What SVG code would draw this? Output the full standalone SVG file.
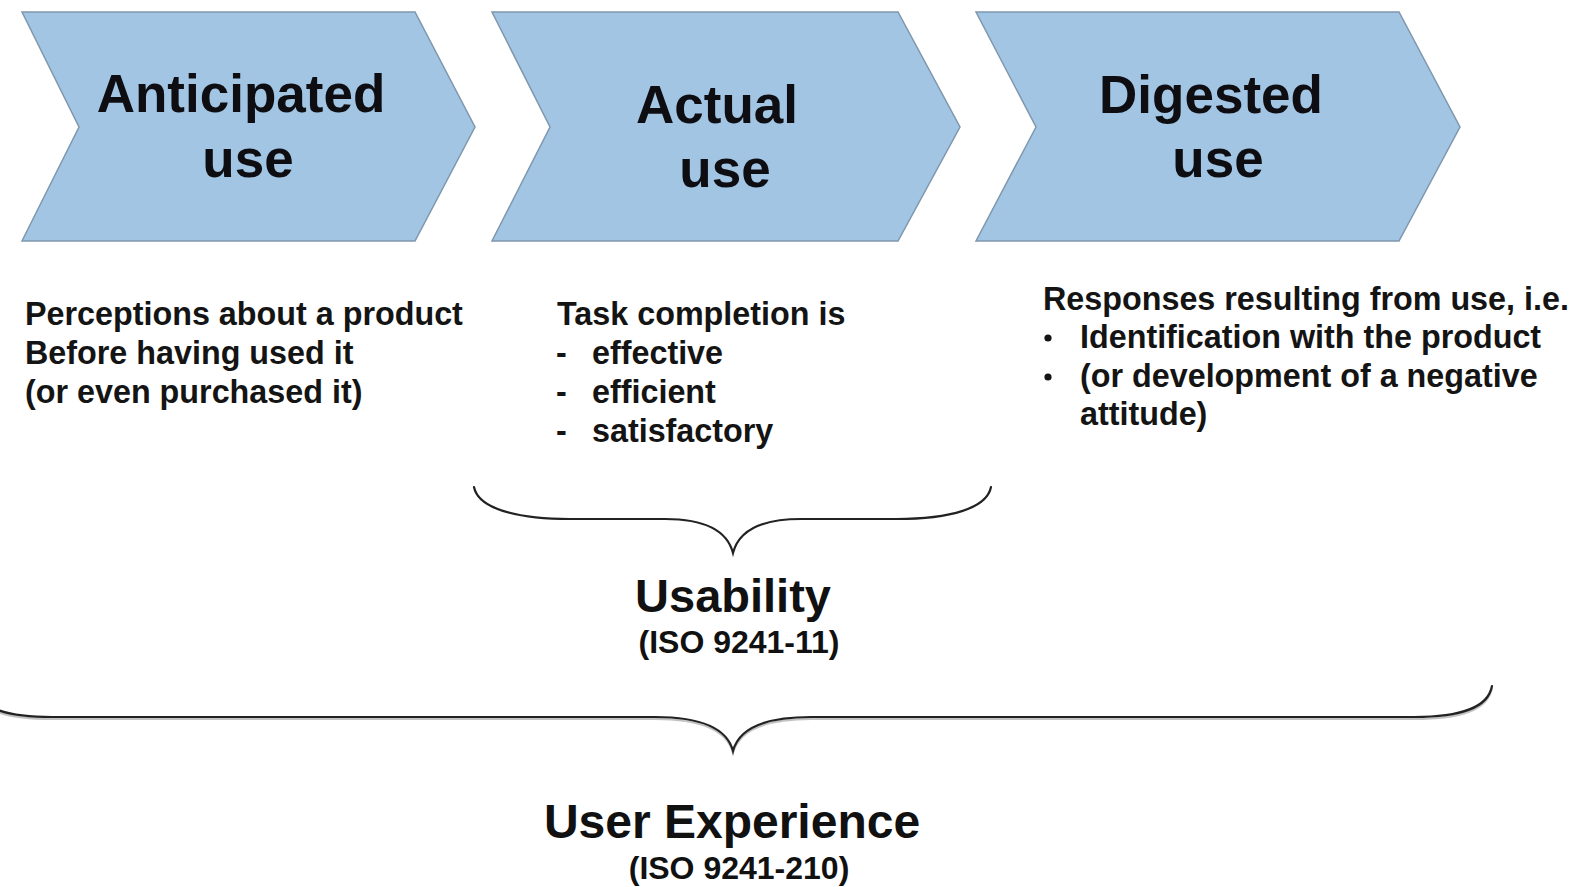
<svg xmlns="http://www.w3.org/2000/svg" width="1575" height="887" viewBox="0 0 1575 887">
  <style>
    .chev { fill: #a1c5e3; stroke: #7f97ad; stroke-width: 1.5; }
    .title { font-family: "Liberation Sans", Arial, sans-serif; font-weight: bold; font-size: 53px; fill: #0d0d12; text-anchor: middle; }
    .body { font-family: "Liberation Sans", Arial, sans-serif; font-weight: bold; font-size: 32.3px; fill: #141414; }
    .label { font-family: "Liberation Sans", Arial, sans-serif; font-weight: bold; fill: #111; text-anchor: middle; }
    .brace { fill: none; stroke: #222; stroke-width: 2.2; stroke-linecap: round; }
    .brace-shadow { fill: none; stroke: #9a9a9a; stroke-width: 2; opacity: 0.6; }
    .dot { fill: #141414; }
  </style>
  <rect width="1575" height="887" fill="#ffffff"/>

  <!-- Phase 1 -->
  <g id="anticipated-use">
    <polygon class="chev" points="22,12 415,12 475,127 415,241 22,241 79,127"/>
    <text class="title" x="241" y="112">Anticipated</text>
    <text class="title" x="248" y="177">use</text>
  </g>

  <!-- Phase 2 -->
  <g id="actual-use">
    <polygon class="chev" points="492,12 898,12 960,127 898,241 492,241 550,127"/>
    <text class="title" x="717" y="123">Actual</text>
    <text class="title" x="725" y="187">use</text>
  </g>

  <!-- Phase 3 -->
  <g id="digested-use">
    <polygon class="chev" points="976,12 1399,12 1460,127 1399,241 976,241 1036,127"/>
    <text class="title" x="1211" y="113">Digested</text>
    <text class="title" x="1218" y="177">use</text>
  </g>

  <!-- Descriptions under each phase -->
  <g id="anticipated-notes">
    <text class="body" x="25" y="325">Perceptions about a product</text>
    <text class="body" x="25" y="364">Before having used it</text>
    <text class="body" x="25" y="403">(or even purchased it)</text>
  </g>

  <g id="actual-notes">
    <text class="body" x="557" y="325">Task completion is</text>
    <text class="body" x="556" y="364">-</text>
    <text class="body" x="592" y="364">effective</text>
    <text class="body" x="556" y="403">-</text>
    <text class="body" x="592" y="403">efficient</text>
    <text class="body" x="556" y="442">-</text>
    <text class="body" x="592" y="442">satisfactory</text>
  </g>

  <g id="digested-notes">
    <text class="body" x="1043" y="310">Responses resulting from use, i.e.</text>
    <circle class="dot" cx="1048" cy="338" r="3.6"/>
    <text class="body" x="1080" y="348">Identification with the product</text>
    <circle class="dot" cx="1048" cy="377" r="3.6"/>
    <text class="body" x="1080" y="387">(or development of a negative</text>
    <text class="body" x="1080" y="425">attitude)</text>
  </g>

  <!-- Braces grouping the phases -->
  <g id="connectors">
    <path class="brace" d="M474,487 C478,508 515,519 570,519 L665,519 C705,519 727,530 733,553 C739,530 761,519 801,519 L896,519 C951,519 987,508 991,487"/>
    <path class="brace-shadow" d="M-26,688 C-22,710 5,719 52,719 L655,719 C700,719 727,730 733,753 C739,730 766,719 811,719 L1414,719 C1461,719 1488,710 1492,688"/>
    <path class="brace" d="M-26,686 C-22,708 5,717 52,717 L655,717 C700,717 727,728 733,751 C739,728 766,717 811,717 L1414,717 C1461,717 1488,708 1492,686"/>
  </g>

  <g id="usability">
    <text class="label" x="733" y="612" font-size="47">Usability</text>
    <text class="label" x="739" y="653" font-size="32">(ISO 9241-11)</text>
  </g>

  <g id="user-experience">
    <text class="label" x="732" y="838" font-size="48">User Experience</text>
    <text class="label" x="739" y="879" font-size="32">(ISO 9241-210)</text>
  </g>
</svg>
